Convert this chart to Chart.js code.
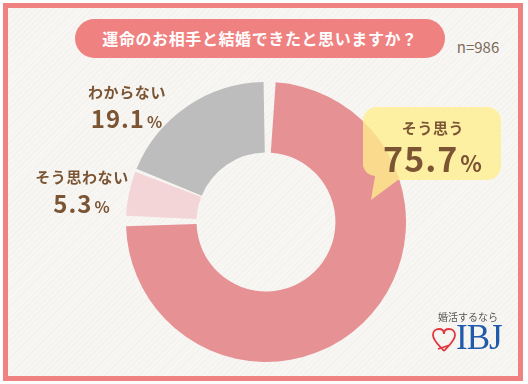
<!DOCTYPE html>
<html><head><meta charset="utf-8">
<script src="https://cdn.jsdelivr.net/npm/chart.js@4"></script>
<style>
html,body{margin:0;padding:0;background:#fff;}
#wrap{position:relative;width:528px;height:384px;overflow:hidden;background:#fff;font-family:"Noto Sans CJK JP","Noto Sans",sans-serif;}
#frame{position:absolute;left:3px;top:3px;width:510px;height:368px;border:5px solid #F08181;
 background-color:#F8F6F3;
 background-image:repeating-linear-gradient(135deg, rgba(0,0,0,0.018) 0px, rgba(0,0,0,0.018) 1px, transparent 1px, transparent 4px);}
#chartBox{position:absolute;left:126px;top:82px;width:280px;height:280px;}
.t{position:absolute;text-align:center;white-space:nowrap;color:#7B5533;font-weight:bold;}
#pill{position:absolute;left:75px;top:19px;width:370px;height:39px;border-radius:20px;background:#F08181;color:#fff;font-weight:bold;font-size:16px;line-height:39px;text-align:center;letter-spacing:0.6px;}
#n{position:absolute;left:450px;top:37px;width:56px;font-size:15px;line-height:20px;color:#7D6A58;text-align:center;}
.pct small{font-size:0.66em;margin-left:2px;}
#bubble{position:absolute;left:0;top:0;}
#logoTxt{position:absolute;left:432px;top:310px;width:72px;text-align:center;font-size:10px;line-height:14px;color:#555;}
#ibj{position:absolute;left:456px;top:320px;font-family:"Liberation Serif","DejaVu Serif",serif;font-size:35px;line-height:36px;color:#1F5BAA;letter-spacing:-1px;}
</style></head>
<body>
<div id="wrap">
 <div id="frame"></div>
 <div id="pill"></div>
 <div id="n"></div>
 <div id="chartBox"><canvas id="c" width="280" height="280"></canvas></div>
 <svg id="bubble" width="528" height="384">
  <path d="M377,107 H487 A14,14 0 0 1 501,121 V166 A14,14 0 0 1 487,180 H398 L371,200 L375,176 A14,14 0 0 1 363,166 V121 A14,14 0 0 1 377,107 Z" fill="rgba(255,238,140,0.78)"/>
 </svg>
 <div id="labels"></div>
 <div id="logoTxt">婚活するなら</div>
 <svg width="528" height="384" style="position:absolute;left:0;top:0">
  <path d="M444,351 C440,346 433,341 433,335 C433,331 436,329 439,329 C442,329 444,331 444,334 C444,331 446,329 449,329 C452,329 455,331 455,335 C455,341 448,346 444,351 M438,349 L450,345" fill="none" stroke="#E0383E" stroke-width="1.8"/>
 </svg>
 <div id="ibj">IBJ</div>
</div>
<script>
const title = '運命のお相手と結婚できたと思いますか？';
const sampleSize = 'n=986';
const categories = ['そう思う', 'そう思わない', 'わからない'];
const values = [75.7, 5.3, 19.1];
const sliceColors = ['#E69194', '#F4D5D7', '#BDBDBD'];

document.getElementById('pill').textContent = title;
document.getElementById('n').textContent = sampleSize;

// label positions (centres) for each category
const labelPos = [
  {x: 433, y1: 127, y2: 158, s1: 15, s2: 34},
  {x: 82,  y1: 176, y2: 203, s1: 15, s2: 24},
  {x: 127, y1: 91,  y2: 118, s1: 15, s2: 24}
];
const lab = document.getElementById('labels');
categories.forEach((c, i) => {
  const p = labelPos[i];
  const a = document.createElement('div');
  a.className = 't';
  a.style.cssText = `left:${p.x-80}px;width:160px;top:${p.y1-p.s1*0.7}px;font-size:${p.s1}px;line-height:${p.s1*1.4}px;letter-spacing:0.6px`;
  a.textContent = c;
  lab.appendChild(a);
  const b = document.createElement('div');
  b.className = 't pct';
  b.style.cssText = `left:${p.x-80}px;width:160px;top:${p.y2-p.s2*0.7}px;font-size:${p.s2}px;line-height:${p.s2*1.4}px;letter-spacing:1px`;
  b.innerHTML = values[i].toFixed(1) + '<small>%</small>';
  lab.appendChild(b);
});

new Chart(document.getElementById('c'), {
  type: 'doughnut',
  data: {
    labels: categories,
    datasets: [{ data: values, backgroundColor: sliceColors, borderWidth: 0, spacing: 6, hoverOffset: 0 }]
  },
  options: {
    responsive: false,
    animation: false,
    cutout: '48.5%',
    rotation: 0,
    layout: { padding: 0 },
    plugins: { legend: { display: false }, tooltip: { enabled: false }, title: { display: false } },
    events: []
  }
});
</script>
</body></html>
